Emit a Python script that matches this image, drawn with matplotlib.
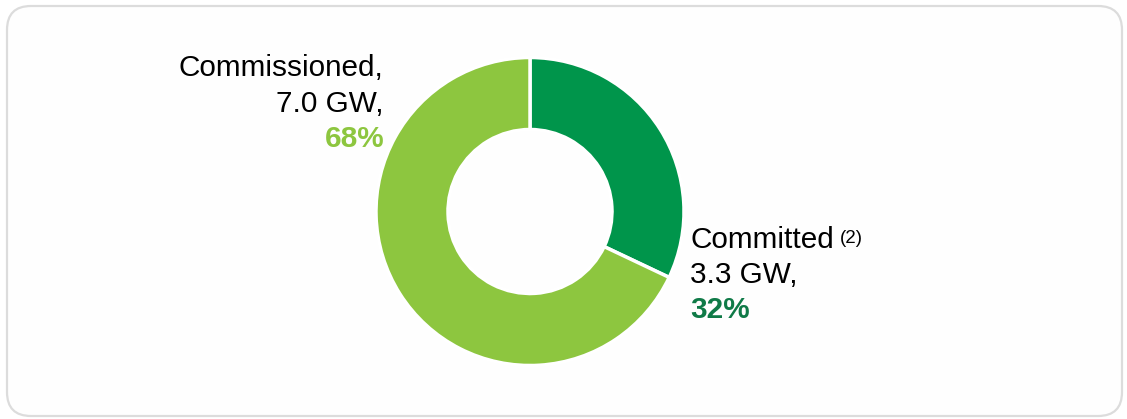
import matplotlib
matplotlib.use('Agg')
import matplotlib.pyplot as plt
from matplotlib.patches import FancyBboxPatch

plt.rcParams['font.family'] = ['Liberation Sans', 'DejaVu Sans']

# data
labels = ['Committed', 'Commissioned']
capacity_gw = [3.3, 7.0]
shares = ['32%', '68%']
colors = ['#00954b', '#8dc63f']
pct_colors = ['#0f7a47', '#8dc63f']

W, H = 1127, 419
fig = plt.figure(figsize=(W / 100, H / 100), dpi=100)
ax = fig.add_axes([0, 0, 1, 1])
ax.set_xlim(0, W); ax.set_ylim(0, H); ax.axis('off')
ax.set_aspect('equal')

# card outline
card = FancyBboxPatch((7, 3), 1115, 410, boxstyle="round,pad=0,rounding_size=24",
                      facecolor='#fefefe', edgecolor='#dcdcdc', linewidth=1.6)
ax.add_patch(card)

cx, cy, r = 530, 207.5, 154
ax.pie(capacity_gw, colors=colors, startangle=90, counterclock=False,
       center=(cx, cy), radius=r, frame=True,
       wedgeprops=dict(width=72, edgecolor='white', linewidth=2.5))
ax.set_xlim(0, W); ax.set_ylim(0, H); ax.axis('off')

fs = 21.4
# Commissioned label (right aligned, left of donut)
ax.text(383, H - 76, labels[1] + ',', ha='right', va='baseline', fontsize=fs, color='black')
ax.text(384, H - 112, f'{capacity_gw[1]:.1f} GW,', ha='right', va='baseline', fontsize=fs, color='black')
ax.text(385, H - 147, shares[1], ha='right', va='baseline', fontsize=fs,
        color=pct_colors[1], fontweight='bold')

# Committed label (left aligned, right of donut)
ax.text(690, H - 248, labels[0], ha='left', va='baseline', fontsize=fs, color='black')
ax.text(840, H - 243, '(2)', ha='left', va='baseline', fontsize=13.5, color='black')
ax.text(690, H - 283, f'{capacity_gw[0]:.1f} GW,', ha='left', va='baseline', fontsize=fs, color='black')
ax.text(690, H - 318, shares[0], ha='left', va='baseline', fontsize=fs,
        color=pct_colors[0], fontweight='bold')

fig.savefig('out.png', dpi=100, facecolor='white')
